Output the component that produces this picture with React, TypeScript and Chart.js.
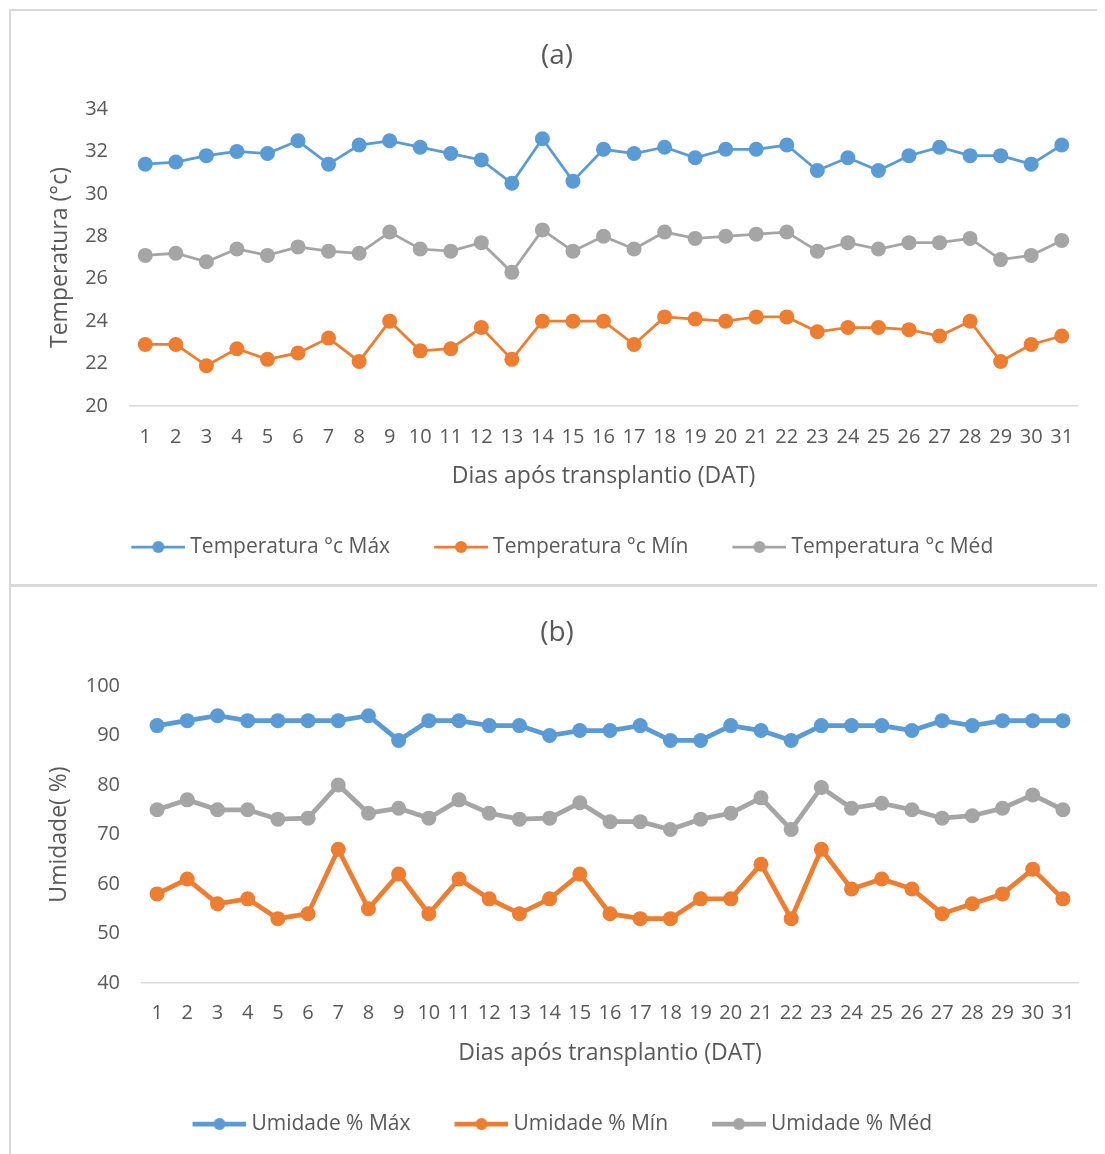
import React, { useEffect, useRef } from "react";
import { Chart, registerables } from "chart.js";

Chart.register(...registerables);

// Days after transplanting (DAT)
const days = ["1", "2", "3", "4", "5", "6", "7", "8", "9", "10", "11", "12", "13", "14", "15", "16", "17", "18", "19", "20", "21", "22", "23", "24", "25", "26", "27", "28", "29", "30", "31"];

// (a) air temperature, °C
const tempMax = [31.4, 31.5, 31.8, 32.0, 31.9, 32.5, 31.4, 32.3, 32.5, 32.2, 31.9, 31.6, 30.5, 32.6, 30.6, 32.1, 31.9, 32.2, 31.7, 32.1, 32.1, 32.3, 31.1, 31.7, 31.1, 31.8, 32.2, 31.8, 31.8, 31.4, 32.3];
const tempMin = [22.9, 22.9, 21.9, 22.7, 22.2, 22.5, 23.2, 22.1, 24.0, 22.6, 22.7, 23.7, 22.2, 24.0, 24.0, 24.0, 22.9, 24.2, 24.1, 24.0, 24.2, 24.2, 23.5, 23.7, 23.7, 23.6, 23.3, 24.0, 22.1, 22.9, 23.3];
const tempMed = [27.1, 27.2, 26.8, 27.4, 27.1, 27.5, 27.3, 27.2, 28.2, 27.4, 27.3, 27.7, 26.3, 28.3, 27.3, 28.0, 27.4, 28.2, 27.9, 28.0, 28.1, 28.2, 27.3, 27.7, 27.4, 27.7, 27.7, 27.9, 26.9, 27.1, 27.8];

// (b) relative humidity, %
const humMax = [92, 93, 94, 93, 93, 93, 93, 94, 89, 93, 93, 92, 92, 90, 91, 91, 92, 89, 89, 92, 91, 89, 92, 92, 92, 91, 93, 92, 93, 93, 93];
const humMin = [58, 61, 56, 57, 53, 54, 67, 55, 62, 54, 61, 57, 54, 57, 62, 54, 53, 53, 57, 57, 64, 53, 67, 59, 61, 59, 54, 56, 58, 63, 57];
const humMed = [75, 77, 75, 75, 73.1, 73.3, 80, 74.3, 75.3, 73.3, 77, 74.3, 73.1, 73.3, 76.4, 72.6, 72.6, 71, 73.1, 74.3, 77.4, 71, 79.5, 75.3, 76.3, 75, 73.3, 73.8, 75.3, 78, 75];

const tempLabels = ["Temperatura °c Máx", "Temperatura °c Mín", "Temperatura °c Méd"];
const humLabels = ["Umidade % Máx", "Umidade % Mín", "Umidade % Méd"];

const BLUE = "#5B9BD5";
const ORANGE = "#ED7D31";
const GRAY = "#A5A5A5";
const TEXT = "#595959";
const FONT = "'Open Sans', 'Noto Sans', sans-serif";

// Line-with-dot legend marker; the left 16px are left blank so the marker
// sits closer to its label inside the legend box
function makeSwatch(color: string, lineWidth: number): HTMLCanvasElement {
  const c = document.createElement("canvas");
  c.width = 70;
  c.height = 16;
  const ctx = c.getContext("2d")!;
  ctx.strokeStyle = color;
  ctx.lineWidth = lineWidth;
  ctx.beginPath();
  ctx.moveTo(16, 8);
  ctx.lineTo(70, 8);
  ctx.stroke();
  ctx.fillStyle = color;
  ctx.beginPath();
  ctx.arc(43, 8, 6, 0, Math.PI * 2);
  ctx.fill();
  return c;
}

type PanelProps = {
  title: string;
  yTitle: string;
  labels: string[];
  series: number[][];
  colors: string[];
  yMin: number;
  yMax: number;
  yStep: number;
  lineWidth: number;
  width: number;
  height: number;
  padLeft: number;
  padRight: number;
  padBottom: number;
  yAxisWidth: number;
  xAxisHeight: number;
  titlePadTop: number;
  titlePadBottom: number;
  xTickPad: number;
};

function LinePanel(p: PanelProps) {
  const ref = useRef<HTMLCanvasElement | null>(null);

  useEffect(() => {
    if (!ref.current) return;
    const swatches = p.colors.map((c) => makeSwatch(c, p.lineWidth));
    const chart = new Chart(ref.current, {
      type: "line",
      data: {
        labels: days,
        datasets: p.series.map((values, i) => ({
          label: p.labels[i],
          data: values,
          borderColor: p.colors[i],
          backgroundColor: p.colors[i],
          pointBackgroundColor: p.colors[i],
          pointBorderColor: p.colors[i],
          borderWidth: p.lineWidth,
          pointRadius: 7.5,
          pointBorderWidth: 0,
          tension: 0,
          fill: false,
        })),
      },
      options: {
        responsive: false,
        animation: false,
        devicePixelRatio: 1,
        layout: {
          padding: { top: 0, left: p.padLeft, right: p.padRight, bottom: p.padBottom },
        },
        plugins: {
          tooltip: { enabled: false },
          title: {
            display: true,
            text: p.title,
            color: TEXT,
            font: { family: FONT, size: 28, weight: "normal" },
            padding: { top: p.titlePadTop, bottom: p.titlePadBottom },
          },
          legend: {
            position: "bottom",
            labels: {
              color: TEXT,
              font: { family: FONT, size: 21 },
              usePointStyle: true,
              pointStyleWidth: 59,
              padding: 33.5,
              generateLabels: (chart: Chart) => {
                const items = Chart.defaults.plugins.legend.labels.generateLabels(chart);
                return items.map((it, i) => ({ ...it, pointStyle: swatches[i] as any }));
              },
            },
          },
        },
        scales: {
          x: {
            offset: true,
            grid: { display: false, drawTicks: false },
            border: { display: true, color: "#D9D9D9", width: 1.5 },
            ticks: {
              color: TEXT,
              font: { family: FONT, size: 20 },
              padding: p.xTickPad,
              maxRotation: 0,
              autoSkip: false,
            },
            title: {
              display: true,
              text: "Dias após transplantio (DAT)",
              color: TEXT,
              font: { family: FONT, size: 23 },
              padding: { top: 0, bottom: 13.2 },
            },
            afterFit: (s: any) => {
              s.height = p.xAxisHeight;
            },
          },
          y: {
            min: p.yMin,
            max: p.yMax,
            grid: { display: false, drawTicks: false },
            border: { display: false },
            ticks: {
              stepSize: p.yStep,
              color: TEXT,
              font: { family: FONT, size: 20 },
              padding: 22,
            },
            title: {
              display: true,
              text: p.yTitle,
              color: TEXT,
              font: { family: FONT, size: 23 },
              padding: { top: 10, bottom: 0 },
            },
            afterFit: (s: any) => {
              s.width = p.yAxisWidth;
            },
          },
        },
      },
    });
    return () => chart.destroy();
  }, []);

  return <canvas ref={ref} width={p.width} height={p.height} style={{ width: p.width, height: p.height, display: "block" }} />;
}

export default function App() {
  return (
    <div style={{ position: "relative", width: 1097, height: 1146, overflow: "hidden", background: "#fff" }}>
      {/* panel (a) frame */}
      <div
        style={{
          position: "absolute",
          left: 1,
          top: 1,
          width: 1200,
          height: 577,
          border: "2px solid #D9D9D9",
          boxSizing: "border-box",
        }}
      />
      {/* panel (b) frame */}
      <div
        style={{
          position: "absolute",
          left: 1,
          top: 577,
          width: 1200,
          height: 700,
          border: "2px solid #D9D9D9",
          boxSizing: "border-box",
        }}
      />
      <div style={{ position: "absolute", left: 2, top: 2 }}>
        <LinePanel
          title="(a)"
          yTitle="Temperatura (°c)"
          labels={tempLabels}
          series={[tempMax, tempMin, tempMed]}
          colors={[BLUE, ORANGE, GRAY]}
          yMin={20}
          yMax={34}
          yStep={2}
          lineWidth={2.75}
          width={1095}
          height={575}
          padLeft={27}
          padRight={28}
          padBottom={17.5}
          yAxisWidth={93}
          xAxisHeight={97}
          titlePadTop={29}
          titlePadBottom={36.4}
          xTickPad={19}
        />
      </div>
      <div style={{ position: "absolute", left: 2, top: 581 }}>
        <LinePanel
          title="(b)"
          yTitle="Umidade( %)"
          labels={humLabels}
          series={[humMax, humMin, humMed]}
          colors={[BLUE, ORANGE, GRAY]}
          yMin={40}
          yMax={100}
          yStep={10}
          lineWidth={4.75}
          width={1095}
          height={565}
          padLeft={26}
          padRight={27}
          padBottom={9.5}
          yAxisWidth={106}
          xAxisHeight={97}
          titlePadTop={27}
          titlePadBottom={36.4}
          xTickPad={18}
        />
      </div>
    </div>
  );
}
